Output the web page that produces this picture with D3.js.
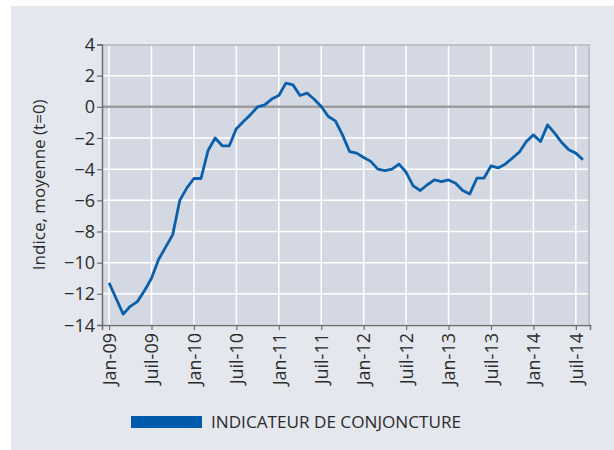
<!DOCTYPE html>
<html>
<head>
<meta charset="utf-8">
<script src="https://cdn.jsdelivr.net/npm/d3@7"></script>
<style>
  body { margin: 0; background: #ffffff; }
  text { font-family: "Open Sans", sans-serif; fill: #2b2b2b; }
</style>
</head>
<body>
<div id="wrapper"></div>
<script>
// monthly values, Jan-09 .. Aug-14
const startYear = 2009;
const values = [
  -11.3, -12.3, -13.3, -12.8, -12.5, -11.8, -11.0, -9.8, -9.0, -8.2, -6.0, -5.2,
  -4.6, -4.6, -2.8, -2.0, -2.5, -2.5, -1.4, -0.94, -0.5, 0.0, 0.13, 0.5,
  0.73, 1.52, 1.41, 0.73, 0.88, 0.49, 0.02, -0.62, -0.9, -1.8, -2.87, -2.97,
  -3.25, -3.5, -4.0, -4.09, -4.0, -3.68, -4.2, -5.07, -5.37, -5.0, -4.69, -4.8,
  -4.69, -4.9, -5.37, -5.59, -4.58, -4.58, -3.79, -3.92, -3.68, -3.3, -2.91, -2.23,
  -1.8, -2.23, -1.16, -1.69, -2.29, -2.76, -2.97, -3.4
];
const xTickLabels = ["Jan-09", "Juil-09", "Jan-10", "Juil-10", "Jan-11", "Juil-11",
  "Jan-12", "Juil-12", "Jan-13", "Juil-13", "Jan-14", "Juil-14"];
const yTicks = [4, 2, 0, -2, -4, -6, -8, -10, -12, -14];
const yTitle = "Indice, moyenne (t=0)";
const seriesName = "INDICATEUR DE CONJONCTURE";

const width = 614;
const height = 450;
const dimensions = {
  margin: { top: 44.5, right: 24, bottom: 125, left: 102 }
};
dimensions.boundedW = width - dimensions.margin.left - dimensions.margin.right;
dimensions.boundedH = height - dimensions.margin.top - dimensions.margin.bottom;

const svg = d3.select('#wrapper')
  .append('svg')
  .attr('width', width)
  .attr('height', height);

// hellgrauer Hintergrund
svg.append('rect')
  .attr('x', 11).attr('y', 6)
  .attr('width', width - 11).attr('height', height - 6)
  .attr('fill', '#e4e7ee');

const bounds = svg.append('g')
  .attr('transform', `translate(${dimensions.margin.left},${dimensions.margin.top})`);

const x = d3.scaleLinear()
  .domain([-1, values.length])
  .range([0, dimensions.boundedW]);
const y = d3.scaleLinear()
  .domain([-14, 4])
  .range([dimensions.boundedH, 0]);

const tickIdx = xTickLabels.map((d, i) => i * 6);

bounds.append('rect')
  .attr('width', dimensions.boundedW)
  .attr('height', dimensions.boundedH)
  .attr('fill', '#d4d8e2');

// gridlines
bounds.selectAll('.hgrid')
  .data(yTicks.filter(d => d !== 0))
  .enter().append('line')
  .attr('x1', 0).attr('x2', dimensions.boundedW)
  .attr('y1', d => y(d)).attr('y2', d => y(d))
  .attr('stroke', '#ffffff').attr('stroke-width', 1.5);

bounds.selectAll('.vgrid')
  .data(tickIdx)
  .enter().append('line')
  .attr('x1', d => x(d)).attr('x2', d => x(d))
  .attr('y1', 0).attr('y2', dimensions.boundedH)
  .attr('stroke', '#ffffff').attr('stroke-width', 1.5);

// top / right border
bounds.append('path')
  .attr('d', `M0,0.5H${dimensions.boundedW - 1}V${dimensions.boundedH}`)
  .attr('fill', 'none')
  .attr('stroke', '#bdc1c9')
  .attr('stroke-width', 2);

// zero line
bounds.append('line')
  .attr('x1', 0).attr('x2', dimensions.boundedW)
  .attr('y1', y(0)).attr('y2', y(0))
  .attr('stroke', '#9d9d9f').attr('stroke-width', 2.5);

// axes
const yAxis = bounds.append('g')
  .call(d3.axisLeft(y).tickValues(yTicks).tickSize(5).tickPadding(2).tickFormat(d3.format('d')));
const xAxis = bounds.append('g')
  .attr('transform', `translate(0,${dimensions.boundedH})`)
  .call(d3.axisBottom(x).tickValues(tickIdx).tickSize(5).tickFormat((d, i) => xTickLabels[i]));

[yAxis, xAxis].forEach(a => {
  a.select('.domain').attr('stroke', '#6e6e70').attr('stroke-width', 1.5);
  a.selectAll('.tick line').attr('stroke', '#6e6e70').attr('stroke-width', 1.2);
  a.selectAll('.tick text')
    .attr('fill', '#2b2b2b')
    .style('font-family', '"Open Sans", sans-serif')
    .style('font-size', '18px');
});
yAxis.selectAll('.tick text').attr('dy', '0.34em');
xAxis.selectAll('.tick text')
  .attr('transform', 'rotate(-90)')
  .attr('text-anchor', 'end')
  .attr('x', -8)
  .attr('y', 0)
  .attr('dy', '0.35em');

// Linie
const line = d3.line()
  .x((d, i) => x(i))
  .y(d => y(d));

bounds.append('path')
  .datum(values)
  .attr('d', line)
  .attr('fill', 'none')
  .attr('stroke', '#0a5fab')
  .attr('stroke-width', 2.8)
  .attr('stroke-linejoin', 'round');

// y title
svg.append('text')
  .attr('transform', `translate(45,${dimensions.margin.top + dimensions.boundedH / 2}) rotate(-90)`)
  .attr('text-anchor', 'middle')
  .style('font-size', '17px')
  .text(yTitle);

// Legende
svg.append('rect')
  .attr('x', 131).attr('y', 416)
  .attr('width', 71).attr('height', 12)
  .attr('fill', '#005bac');
svg.append('text')
  .attr('x', 211).attr('y', 428)
  .attr('textLength', 250)
  .attr('lengthAdjust', 'spacingAndGlyphs')
  .style('font-size', '17px')
  .text(seriesName);
</script>
</body>
</html>
